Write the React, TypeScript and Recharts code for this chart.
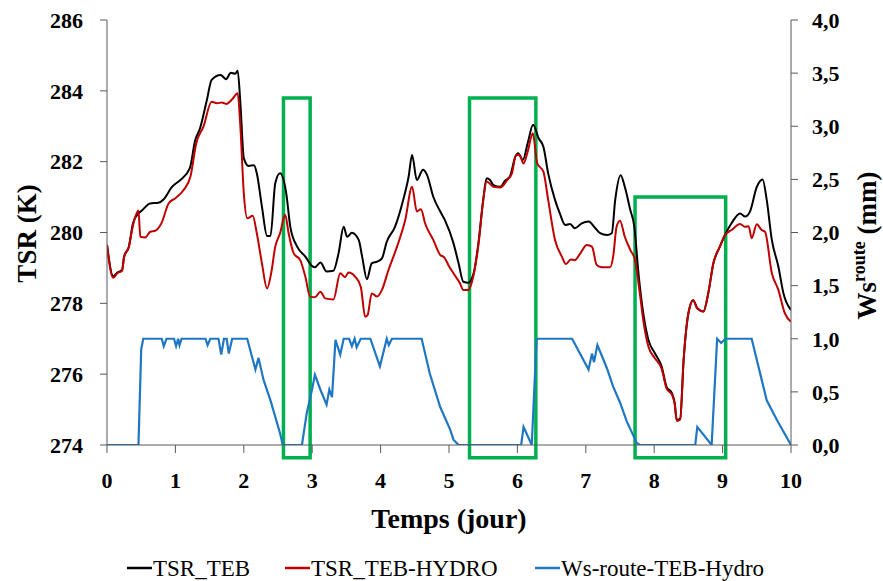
import React from 'react';
import { LineChart, Line, XAxis, YAxis, ReferenceArea, Label } from 'recharts';

const FONT = "'Liberation Serif', 'DejaVu Serif', 'Times New Roman', Times, serif";

const seriesNames = ['TSR_TEB', 'TSR_TEB-HYDRO', 'Ws-route-TEB-Hydro'];
const seriesColors = ['#000000', '#C00000', '#1F77C4'];

const tebTime = [0.0, 0.09, 0.15, 0.22, 0.25, 0.32, 0.38, 0.46, 0.51, 0.63, 0.75, 0.83, 0.95, 1.07, 1.21, 1.29, 1.36, 1.46, 1.53, 1.66, 1.74, 1.81, 1.875, 1.91, 1.95, 2.0, 2.07, 2.15, 2.19, 2.265, 2.34, 2.39, 2.46, 2.53, 2.62, 2.68, 2.78, 2.9, 3.0, 3.04, 3.12, 3.21, 3.31, 3.385, 3.46, 3.51, 3.58, 3.68, 3.73, 3.8, 3.87, 3.95, 4.02, 4.09, 4.21, 4.33, 4.41, 4.46, 4.53, 4.62, 4.68, 4.77, 4.87, 4.94, 5.065, 5.14, 5.21, 5.28, 5.36, 5.43, 5.5, 5.55, 5.6, 5.65, 5.75, 5.82, 5.89, 5.97, 6.01, 6.08, 6.15, 6.23, 6.31, 6.38, 6.45, 6.55, 6.62, 6.7, 6.77, 6.84, 6.94, 7.04, 7.14, 7.21, 7.31, 7.38, 7.43, 7.51, 7.57, 7.65, 7.71, 7.77, 7.84, 7.915, 8.01, 8.11, 8.18, 8.26, 8.3, 8.33, 8.38, 8.43, 8.5, 8.57, 8.63, 8.72, 8.79, 8.865, 8.96, 9.035, 9.13, 9.255, 9.33, 9.4, 9.5, 9.585, 9.645, 9.72, 9.815, 9.89, 10.0];
const tebValues = [279.65, 278.77, 278.87, 278.94, 279.32, 279.6, 280.26, 280.54, 280.62, 280.82, 280.84, 280.94, 281.29, 281.48, 281.81, 282.61, 282.94, 283.74, 284.31, 284.45, 284.33, 284.51, 284.48, 284.57, 283.65, 282.1, 281.88, 281.9, 281.67, 280.73, 279.9, 279.9, 281.39, 281.67, 281.11, 280.16, 279.6, 279.32, 279.05, 279.02, 279.15, 278.9, 278.92, 279.41, 280.16, 279.88, 279.99, 279.79, 279.32, 278.68, 279.13, 279.18, 279.27, 279.74, 280.16, 280.92, 281.58, 282.19, 281.48, 281.77, 281.62, 281.01, 280.6, 280.35, 279.7, 279.13, 278.61, 278.58, 278.85, 279.7, 280.92, 281.53, 281.48, 281.34, 281.29, 281.46, 281.58, 282.14, 282.24, 282.05, 282.52, 283.04, 282.66, 282.42, 281.67, 280.92, 280.54, 280.21, 280.24, 280.12, 280.26, 280.31, 280.12, 279.98, 279.93, 279.98, 280.92, 281.62, 281.29, 280.64, 280.16, 278.85, 277.72, 276.97, 276.59, 276.21, 275.65, 275.46, 275.18, 274.71, 274.75, 276.4, 277.72, 278.09, 277.86, 277.77, 278.28, 279.13, 279.6, 279.93, 280.26, 280.54, 280.45, 280.59, 281.29, 281.5, 280.92, 279.79, 279.04, 278.28, 277.81];

const hydroTime = [0.0, 0.09, 0.15, 0.22, 0.25, 0.32, 0.38, 0.46, 0.487, 0.56, 0.633, 0.706, 0.8, 0.9, 1.0, 1.12, 1.22, 1.305, 1.41, 1.53, 1.61, 1.68, 1.74, 1.83, 1.91, 1.95, 2.0, 2.05, 2.13, 2.19, 2.265, 2.34, 2.4, 2.46, 2.53, 2.605, 2.655, 2.73, 2.825, 2.9, 2.97, 3.04, 3.12, 3.19, 3.31, 3.41, 3.48, 3.53, 3.63, 3.71, 3.775, 3.81, 3.87, 3.95, 4.02, 4.115, 4.24, 4.36, 4.46, 4.53, 4.59, 4.65, 4.77, 4.87, 4.93, 5.0, 5.065, 5.16, 5.21, 5.28, 5.33, 5.43, 5.5, 5.55, 5.65, 5.75, 5.85, 5.92, 5.98, 6.03, 6.09, 6.15, 6.225, 6.29, 6.38, 6.45, 6.55, 6.65, 6.71, 6.78, 6.84, 6.92, 7.015, 7.09, 7.16, 7.23, 7.355, 7.4, 7.45, 7.5, 7.57, 7.65, 7.72, 7.79, 7.84, 7.915, 8.01, 8.11, 8.18, 8.26, 8.3, 8.33, 8.38, 8.43, 8.5, 8.57, 8.63, 8.72, 8.79, 8.865, 8.96, 9.035, 9.13, 9.255, 9.33, 9.38, 9.425, 9.5, 9.57, 9.62, 9.72, 9.815, 9.91, 10.0];
const hydroValues = [279.65, 278.72, 278.85, 278.92, 279.3, 279.6, 280.2, 280.62, 279.88, 279.86, 280.02, 280.05, 280.28, 280.82, 280.97, 281.2, 281.58, 282.52, 282.99, 283.69, 283.65, 283.67, 283.63, 283.76, 283.93, 282.99, 281.11, 280.4, 280.47, 279.98, 279.13, 278.42, 278.85, 279.6, 279.98, 280.5, 279.98, 279.41, 279.22, 278.75, 278.19, 278.17, 278.33, 278.14, 278.11, 278.85, 278.74, 278.87, 278.75, 278.47, 277.62, 277.67, 278.28, 278.19, 278.38, 278.94, 279.6, 280.35, 281.29, 280.59, 280.66, 280.26, 279.79, 279.37, 279.3, 279.05, 278.85, 278.57, 278.38, 278.38, 278.57, 279.65, 280.9, 281.44, 281.29, 281.27, 281.48, 281.67, 282.19, 282.19, 281.95, 282.28, 282.8, 281.95, 281.72, 280.92, 279.79, 279.32, 279.11, 279.24, 279.22, 279.41, 279.65, 279.6, 279.08, 279.02, 279.02, 279.32, 280.16, 280.33, 279.88, 279.51, 279.22, 278.28, 277.53, 276.78, 276.45, 276.15, 275.6, 275.42, 275.15, 274.68, 274.72, 276.4, 277.72, 278.09, 277.86, 277.77, 278.28, 279.13, 279.6, 279.93, 280.07, 280.24, 280.16, 280.18, 279.84, 280.23, 280.07, 280.02, 278.85, 278.38, 277.72, 277.48];

const wsTime = [0, 0.46, 0.5, 0.53, 0.8, 0.83, 0.87, 0.98, 1.01, 1.04, 1.06, 1.09, 1.44, 1.47, 1.51, 1.63, 1.67, 1.71, 1.75, 1.78, 1.83, 2.05, 2.17, 2.215, 2.29, 2.39, 2.53, 2.57, 2.85, 2.92, 3.0, 3.04, 3.12, 3.21, 3.25, 3.29, 3.34, 3.41, 3.46, 3.54, 3.58, 3.62, 3.65, 3.71, 3.85, 3.99, 4.09, 4.12, 4.165, 4.6, 4.72, 4.87, 5.02, 5.065, 5.14, 6.055, 6.09, 6.21, 6.28, 6.3, 6.8, 7.04, 7.09, 7.12, 7.17, 7.31, 7.4, 7.5, 7.6, 7.745, 7.79, 8.6, 8.63, 8.84, 8.92, 8.98, 9.04, 9.425, 9.645, 9.79, 10.0];
const wsValues = [0, 0, 0.9, 1.0, 1.0, 0.93, 1.0, 1.0, 0.93, 1.0, 0.94, 1.0, 1.0, 0.94, 1.0, 1.0, 0.85, 1.0, 1.0, 0.86, 1.0, 1.0, 0.71, 0.82, 0.61, 0.42, 0.11, 0, 0, 0.3, 0.53, 0.66, 0.52, 0.38, 0.52, 0.45, 0.99, 0.85, 1.0, 1.0, 0.93, 1.0, 0.92, 1.0, 1.0, 0.74, 1.0, 0.94, 1.0, 1.0, 0.67, 0.36, 0.14, 0.05, 0, 0, 0.17, 0, 0.99, 1.0, 1.0, 0.71, 0.86, 0.78, 0.94, 0.72, 0.55, 0.4, 0.22, 0.02, 0, 0, 0.17, 0, 1.0, 0.96, 1.0, 1.0, 0.42, 0.24, 0];

const xTicks = [0, 1, 2, 3, 4, 5, 6, 7, 8, 9, 10];
const tsrTicks = [274, 276, 278, 280, 282, 284, 286];
const wsTicks = [0, 0.5, 1, 1.5, 2, 2.5, 3, 3.5, 4];

const boxStart = [2.58, 5.3, 7.72];
const boxEnd = [2.97, 6.27, 9.045];
const boxTop = [283.8, 283.8, 281.0];
const boxBottom = [273.64, 273.64, 273.64];

const xTitle = 'Temps (jour)';
const leftTitle = 'TSR (K)';

const zip = (t: number[], v: number[]) => t.map((x, i) => ({ t: x, v: v[i] }));
const tebData = zip(tebTime, tebValues);
const hydroData = zip(hydroTime, hydroValues);
const wsData = zip(wsTime, wsValues);

const axisColor = '#595959';
const tickStyle = { fontFamily: FONT, fontSize: 22, fontWeight: 700, fill: '#000', style: { fontFamily: FONT } };

const fmtWs = (v: number) => v.toFixed(1).replace('.', ',');

export default function App() {
  return (
    <div style={{ position: 'absolute', left: 0, top: 0, width: 883, height: 581, background: '#fff', fontFamily: FONT }}>
      <LineChart width={883} height={581} data={tebData} margin={{ top: 20, right: 0, bottom: 0, left: 0 }} style={{ fontFamily: FONT }}>
        <XAxis
          dataKey="t"
          type="number"
          domain={[0, 10]}
          ticks={xTicks}
          allowDataOverflow
          height={136}
          stroke={axisColor}
          tickSize={8}
          tickMargin={19}
          tick={tickStyle}
          tickLine={{ stroke: axisColor }}
        >
          <Label
            content={(props: any) => {
              const vb = props.viewBox || { x: 107, y: 445, width: 684, height: 136 };
              return (
                <text x={vb.x + vb.width / 2} y={vb.y + 83} textAnchor="middle" style={{ fontFamily: FONT }} fontSize={28} fontWeight={700} fill="#000">
                  {xTitle}
                </text>
              );
            }}
          />
        </XAxis>
        <YAxis
          yAxisId="left"
          domain={[274, 286]}
          ticks={tsrTicks}
          allowDataOverflow
          width={107}
          stroke={axisColor}
          tickSize={7}
          tickMargin={17}
          tick={tickStyle}
        >
          <Label
            content={(props: any) => {
              const vb = props.viewBox || { x: 0, y: 20, width: 107, height: 425 };
              const cx = vb.x + 36;
              const cy = vb.y + vb.height / 2 + 1;
              return (
                <text x={cx} y={cy} transform={`rotate(-90, ${cx}, ${cy})`} textAnchor="middle" style={{ fontFamily: FONT }} fontSize={27} fontWeight={700} fill="#000">
                  {leftTitle}
                </text>
              );
            }}
          />
        </YAxis>
        <YAxis
          yAxisId="right"
          orientation="right"
          domain={[0, 4]}
          ticks={wsTicks}
          allowDataOverflow
          width={92}
          stroke={axisColor}
          tickSize={7}
          tickMargin={14}
          tick={tickStyle}
          tickFormatter={fmtWs}
        >
          <Label
            content={(props: any) => {
              const vb = props.viewBox || { x: 791, y: 20, width: 92, height: 425 };
              const cx = vb.x + 85;
              const cy = vb.y + vb.height / 2 + 13;
              return (
                <text x={cx} y={cy} transform={`rotate(-90, ${cx}, ${cy})`} textAnchor="middle" style={{ fontFamily: FONT }} fontSize={27} fontWeight={700} fill="#000">
                  <tspan>Ws</tspan>
                  <tspan dy={-11} fontSize={18}>route</tspan>
                  <tspan dy={11}> (mm)</tspan>
                </text>
              );
            }}
          />
        </YAxis>
        <Line yAxisId="left" data={tebData} dataKey="v" type="monotone" stroke={seriesColors[0]} strokeWidth={2} dot={false} isAnimationActive={false} />
        <Line yAxisId="left" data={hydroData} dataKey="v" type="monotone" stroke={seriesColors[1]} strokeWidth={2} dot={false} isAnimationActive={false} />
        <Line yAxisId="right" data={wsData} dataKey="v" type="linear" stroke={seriesColors[2]} strokeWidth={2.2} dot={false} isAnimationActive={false} />
        {boxStart.map((s, i) => (
          <ReferenceArea
            key={i}
            yAxisId="left"
            x1={s}
            x2={boxEnd[i]}
            y1={boxBottom[i]}
            y2={boxTop[i]}
            ifOverflow="visible"
            fill="none"
            fillOpacity={0}
            stroke="#00B050"
            strokeWidth={3.5}
          />
        ))}
      </LineChart>
      <svg width={883} height={40} style={{ position: 'absolute', left: 0, top: 550 }}>
        {seriesNames.map((name, i) => {
          const left = [127, 285, 535][i];
          return (
            <g key={name}>
              <line x1={left} x2={left + 25} y1={18} y2={18} stroke={seriesColors[i]} strokeWidth={2.5} />
              <text x={left + 26} y={26} style={{ fontFamily: FONT }} fontSize={23} fill="#000">
                {name}
              </text>
            </g>
          );
        })}
      </svg>
    </div>
  );
}
